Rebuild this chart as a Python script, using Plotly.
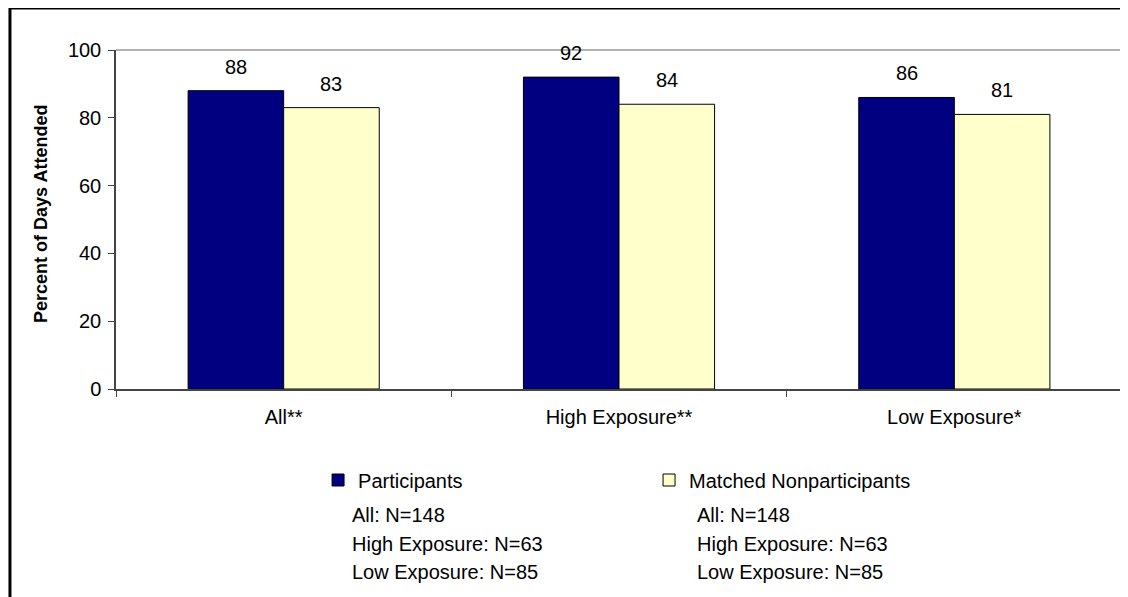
import plotly.graph_objects as go

categories = ["All**", "High Exposure**", "Low Exposure*"]
participants = [88, 92, 86]
nonparticipants = [83, 84, 81]
series_names = ["Participants", "Matched Nonparticipants"]
n_lines = ["All: N=148", "High Exposure: N=63", "Low Exposure: N=85"]
y_ticks = [0, 20, 40, 60, 80, 100]

FONT = "Liberation Sans, Arial, sans-serif"
OFF = 8  # page body margin
W, H = 1120, 589
ML, MT = 116 - OFF, 50 - OFF
MR = W - (1121.7 - OFF)
MB = H - (389 - OFF)
PW = W - ML - MR
PH = H - MT - MB


def px_x(p):
    return (p - OFF - ML) / PW


def px_y(p):
    return (H - MB - (p - OFF)) / PH


fig = go.Figure()
fig.add_trace(go.Bar(name=series_names[0], x=categories, y=participants,
                     marker=dict(color="#000080", line=dict(color="black", width=1))))
fig.add_trace(go.Bar(name=series_names[1], x=categories, y=nonparticipants,
                     marker=dict(color="#FFFFCC", line=dict(color="black", width=1))))

# value labels
bar_w = PW / 3 * (1 - 0.43) / 2
for vals, sh in ((participants, -bar_w / 2), (nonparticipants, bar_w / 2)):
    for c, v in zip(categories, vals):
        fig.add_annotation(x=c, y=v, text=str(v), showarrow=False, xshift=sh, yshift=24,
                           yanchor="middle", font=dict(family=FONT, size=20, color="black"))

# y title
fig.add_annotation(xref="paper", yref="paper", x=px_x(41), y=px_y(214), text="<b>Percent of Days Attended</b>",
                   textangle=-90, showarrow=False, xanchor="center", yanchor="middle",
                   font=dict(family=FONT, size=18, color="black"))

# N lines under legend
for col_x in (352, 697):
    for i, t in enumerate(n_lines):
        fig.add_annotation(xref="paper", yref="paper", x=px_x(col_x - 2), y=px_y(515 + i * 28.5), text=t,
                           xanchor="left", yanchor="middle", showarrow=False,
                           font=dict(family=FONT, size=20, color="black"))

# outer border and plot frame
fig.add_shape(type="rect", xref="paper", yref="paper", x0=px_x(10), x1=px_x(1140), y0=px_y(620), y1=px_y(8),
              line=dict(color="black", width=3))
fig.add_shape(type="line", xref="paper", yref="paper", x0=0, x1=1, y0=1, y1=1, line=dict(color="#999999", width=1.5))
fig.add_shape(type="line", xref="paper", yref="paper", x0=1, x1=1, y0=0, y1=1, line=dict(color="#999999", width=1.5))

fig.update_layout(
    width=W, height=H,
    margin=dict(l=ML, r=MR, t=MT, b=MB),
    paper_bgcolor="white", plot_bgcolor="white",
    barmode="group", bargap=0.43, bargroupgap=0,
    font=dict(family=FONT, size=20, color="black"),
    showlegend=True,
    legend=dict(orientation="h", x=px_x(318), y=px_y(480), xanchor="left", yanchor="middle",
                font=dict(family=FONT, size=20, color="black"),
                entrywidth=286, entrywidthmode="pixels", bgcolor="rgba(0,0,0,0)", itemclick=False),
    xaxis=dict(showline=True, linecolor="#444444", linewidth=1.5, ticks="outside", tickson="boundaries",
               ticklen=6, tickcolor="#444444", showgrid=False, tickfont=dict(family=FONT, size=20),
               ticklabelstandoff=9),
    yaxis=dict(range=[0, 100], tickvals=y_ticks, showline=True, linecolor="#444444", linewidth=1.5,
               ticks="outside", ticklen=6, tickcolor="#444444", showgrid=False, zeroline=False,
               tickfont=dict(family=FONT, size=20), ticklabelstandoff=3),
)

fig.write_html("out.html")
